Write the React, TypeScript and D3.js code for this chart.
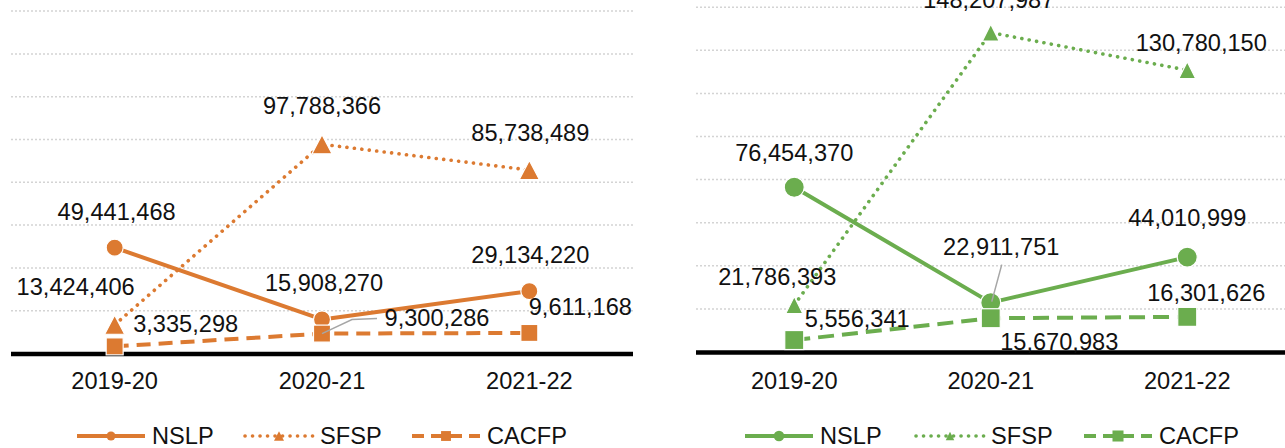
import React from "react";
import * as d3 from "d3";

const categories = ["2019-20", "2020-21", "2021-22"];
const seriesNames = ["NSLP", "SFSP", "CACFP"];

const leftNSLP = [49441468, 15908270, 29134220];
const leftSFSP = [13424406, 97788366, 85738489];
const leftCACFP = [3335298, 9300286, 9611168];

const rightNSLP = [76454370, 22911751, 44010999];
const rightSFSP = [21786393, 148207987, 130780150];
const rightCACFP = [5556341, 15670983, 16301626];

const yTicks = [20e6, 40e6, 60e6, 80e6, 100e6, 120e6, 140e6, 160e6];

const FONT = "'Liberation Sans', Arial, sans-serif";
const FS = 23.6;

type Off = [number, number];
interface Panel {
  x0: number; x1: number; yZero: number; yTop: number; color: string;
  series: number[][];
  labelOff: Off[][];
  leaders: ({ pts: [number, number][] } | null)[][];
  circleR: number; sq: number; triW: number; triH: number;
  legendX: number[];
  dash: string;
}

const panels: Panel[] = [
  {
    x0: 11, x1: 633, yZero: 353.5, yTop: 11.1, color: "#DC7A31",
    series: [leftNSLP, leftSFSP, leftCACFP],
    labelOff: [
      [[2, -36], [2, -36.5], [1, -36]],
      [[-39, -38], [0, -38.5], [1, -37]],
      [[71, -23], [115, -15.6], [51, -26]],
    ],
    leaders: [
      [null, null, null],
      [null, null, null],
      [null, { pts: [[0, 0], [30, -14], [55, -15]] }, null],
    ],
    circleR: 8.5, sq: 17, triW: 20, triH: 19,
    legendX: [77, 245, 412],
    dash: "14 8",
  },
  {
    x0: 696, x1: 1285.5, yZero: 352, yTop: 7.2, color: "#6BAD4E",
    series: [rightNSLP, rightSFSP, rightCACFP],
    labelOff: [
      [[0, -35], [10.5, -55.6], [0, -39]],
      [[-17, -28], [-2, -32.6], [14, -27]],
      [[63, -21], [68.5, 23.5], [19, -24]],
    ],
    leaders: [
      [null, { pts: [[1, -1], [11, -38]] }, null],
      [null, null, null],
      [null, null, null],
    ],
    circleR: 10, sq: 19, triW: 17, triH: 17,
    legendX: [745, 916, 1084],
    dash: "16 8",
  },
];

function Marker({ kind, x, y, p, scale = 1 }: { kind: number; x: number; y: number; p: Panel; scale?: number }) {
  if (kind === 0) {
    return <circle cx={x} cy={y} r={p.circleR * scale} fill={p.color} stroke="#fff" strokeWidth={scale === 1 ? 1.2 : 0} />;
  }
  if (kind === 1) {
    const w = p.triW * scale, h = p.triH * scale;
    const d = `M${x - w / 2},${y + h / 2}L${x + w / 2},${y + h / 2}L${x},${y - h / 2}Z`;
    return <path d={d} fill={p.color} stroke="#fff" strokeWidth={scale === 1 ? 1.2 : 0} />;
  }
  const s = p.sq * scale;
  return <rect x={x - s / 2} y={y - s / 2} width={s} height={s} fill={p.color} stroke="#fff" strokeWidth={scale === 1 ? 1.2 : 0} />;
}

function lineStyle(kind: number, p: Panel) {
  if (kind === 0) return { strokeWidth: 4, strokeDasharray: undefined as string | undefined, strokeLinecap: "butt" as const };
  if (kind === 1) return { strokeWidth: 3.6, strokeDasharray: "0.1 7.4", strokeLinecap: "round" as const };
  return { strokeWidth: 4, strokeDasharray: p.dash, strokeLinecap: "butt" as const };
}

function PanelChart({ p }: { p: Panel }) {
  const x = d3.scaleBand<string>().domain(categories).range([p.x0, p.x1]).padding(0);
  const cx = (c: string) => (x(c) as number) + x.bandwidth() / 2;
  const y = d3.scaleLinear().domain([0, 160e6]).range([p.yZero, p.yTop]);
  const fmt = d3.format(",");
  const line = d3.line<number>().x((_, i) => cx(categories[i])).y((v) => y(v));

  return (
    <g>
      {yTicks.map((t) => (
        <line key={t} x1={p.x0} x2={p.x1} y1={y(t)} y2={y(t)} stroke="#D4D4D4" strokeWidth={1.5} strokeDasharray="2 2" />
      ))}
      {p.series.map((s, k) => {
        const st = lineStyle(k, p);
        return (
          <path key={"l" + k} d={line(s) as string} fill="none" stroke={p.color}
            strokeWidth={st.strokeWidth} strokeDasharray={st.strokeDasharray} strokeLinecap={st.strokeLinecap} strokeLinejoin="round" />
        );
      })}
      <line x1={p.x0} x2={p.x1} y1={p.yZero + 0.5} y2={p.yZero + 0.5} stroke="#000" strokeWidth={4.5} />
      {p.series.map((s, k) =>
        s.map((v, i) => <Marker key={"m" + k + i} kind={k} x={cx(categories[i])} y={y(v)} p={p} />)
      )}
      {p.series.map((s, k) =>
        s.map((v, i) => {
          const L = p.leaders[k][i];
          if (!L) return null;
          const px = cx(categories[i]), py = y(v);
          return (
            <polyline key={"ld" + k + i} points={L.pts.map(([a, b]) => `${px + a},${py + b}`).join(" ")}
              fill="none" stroke="#A6A6A6" strokeWidth={1.5} />
          );
        })
      )}
      {p.series.map((s, k) =>
        s.map((v, i) => {
          const [dx, dy] = p.labelOff[k][i];
          return (
            <text key={"t" + k + i} x={cx(categories[i]) + dx} y={y(v) + dy} dy="0.35em" textAnchor="middle"
              fontFamily={FONT} fontSize={FS} fill="#111">{fmt(v)}</text>
          );
        })
      )}
      {categories.map((c) => (
        <text key={c} x={cx(c)} y={381} dy="0.35em" textAnchor="middle" fontFamily={FONT} fontSize={FS} fill="#111">{c}</text>
      ))}
      {seriesNames.map((n, k) => {
        const lx = p.legendX[k];
        const st = lineStyle(k, p);
        const ly = 436;
        return (
          <g key={n}>
            <line x1={lx} x2={lx + 68} y1={ly} y2={ly} stroke={p.color} strokeWidth={st.strokeWidth}
              strokeDasharray={k === 2 ? "12 7" : st.strokeDasharray} strokeLinecap={st.strokeLinecap} />
            <Marker kind={k} x={lx + 34} y={ly} p={p} scale={k === 0 ? 0.53 : k === 1 ? 0.5 : 0.58} />
            <text x={lx + 75} y={ly} dy="0.35em" fontFamily={FONT} fontSize={FS} fill="#111">{n}</text>
          </g>
        );
      })}
    </g>
  );
}

export default function App() {
  return (
    <svg width={1285} height={448} style={{ position: "absolute", left: 0, top: 0, background: "#fff" }}>
      <rect width={1285} height={448} fill="#fff" />
      {panels.map((p, i) => <PanelChart key={i} p={p} />)}
    </svg>
  );
}
